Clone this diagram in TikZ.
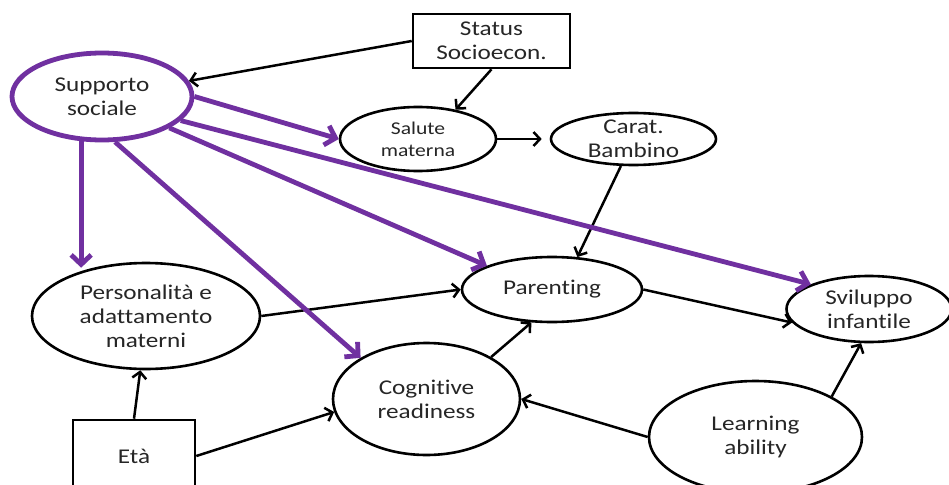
\documentclass[tikz,border=0pt]{standalone}
\usepackage{fontspec}
\setmainfont[FakeStretch=1.2,Ligatures=NoCommon]{Carlito}
\usetikzlibrary{arrows.meta,shapes.geometric}
\definecolor{purp}{HTML}{7030A0}
\definecolor{txt}{HTML}{262626}
\begin{document}
\begin{tikzpicture}[x=1pt,y=-1pt,
  ell/.style={ellipse, draw, fill=white, line width=2.6pt, inner xsep=0pt, inner ysep=-8pt, align=center, text=txt, font=\fontsize{21}{24}\selectfont},
  boxnode/.style={rectangle, draw, fill=white, line width=2.6pt, inner sep=0pt, align=center, text=txt, font=\fontsize{21}{24}\selectfont},
  arr/.style={-{Straight Barb[length=6.5pt,width=14pt]}, line width=2.5pt},
  parr/.style={draw=purp, line width=4.8pt, -{Straight Barb[length=9.5pt,width=20pt]}}]
\useasboundingbox (0,0) rectangle (949,484);
\clip (0,0) rectangle (949,484);
\fill[white] (0,0) rectangle (949,484);
% nodes
\node[boxnode, minimum width=157pt, minimum height=54pt] (st) at (491.5,41) {Status\\Socioecon.};
\node[ell, draw=purp, line width=4.8pt, minimum width=180pt, minimum height=87pt] (sup) at (102,96.5) {Supporto\\sociale};
\node[ell, minimum width=156pt, minimum height=64pt, font=\fontsize{18}{22}\selectfont] (sal) at (418,139) {Salute\\materna};
\node[ell, minimum width=165pt, minimum height=52pt, inner ysep=-14pt] (car) at (633.5,139) {Carat.\\Bambino};
\node[ell, minimum width=228pt, minimum height=106pt] (per) at (146,316) {Personalità e\\adattamento\\materni};
\node[ell, minimum width=180pt, minimum height=65pt] (par) at (552,289.5) {Parenting};
\node[ell, minimum width=165pt, minimum height=66pt] (sv) at (869,309) {Sviluppo\\infantile};
\node[ell, minimum width=187pt, minimum height=112pt] (cog) at (426.5,399) {Cognitive\\readiness};
\node[ell, minimum width=213pt, minimum height=112pt] (la) at (755.5,437) {Learning\\ability};
\node[boxnode, minimum width=122pt, minimum height=72pt] (eta) at (134,456) {Età};
% black connectors
\draw[arr] (st.west) -- (sup);
\draw[arr] (st.south) -- (sal.38);
\draw[arr, shorten >=8pt] (sal) -- (car);
\draw[arr] (car.-115) -- (par.52);
\draw[arr] (per.east) -- (par.west);
\draw[arr] (eta.north) -- (per.-96);
\draw[arr] (eta.east) -- (cog.188);
\draw[arr] (cog.33) -- (par.-122);
\draw[arr] (par.east) -- (sv.190);
\draw[arr] (la.west) -- (cog.east);
\draw[arr] (la.28) -- (sv.-103);
% purple connectors
\draw[parr] (sup.east) -- (sal.west);
\draw[parr, shorten >=-6pt] (sup.-115) -- (sup.-115 |- per.north);
\draw[parr] (sup.-74) -- (cog.148);
\draw[parr] (sup.-25) -- (par.160);
\draw[parr] (sup.-17) -- (sv.157);
\end{tikzpicture}
\end{document}
